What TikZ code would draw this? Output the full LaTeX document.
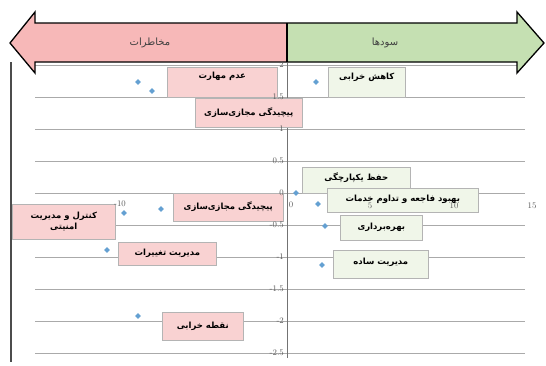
\documentclass[tikz,border=0pt]{standalone}
\usepackage{fontspec}
\newfontfamily\fa[Script=Arabic]{DejaVu Sans}
\TeXXeTstate=1
\usetikzlibrary{shapes.geometric}
\definecolor{arrpink}{RGB}{247,184,184}
\definecolor{arrgreen}{RGB}{197,224,178}
\definecolor{boxpink}{RGB}{249,210,210}
\definecolor{boxgreen}{RGB}{240,246,233}
\definecolor{boxedge}{RGB}{180,180,180}
\definecolor{gridc}{RGB}{170,170,170}
\definecolor{ptc}{RGB}{100,160,210}
\tikzset{
  lbl/.style={inner sep=0pt, draw=boxedge, line width=0.6pt, anchor=north west},
  riskbox/.style={lbl, fill=boxpink},
  benbox/.style={lbl, fill=boxgreen},
  btext/.style={font=\fa\bfseries\fontsize{8.5}{11}\selectfont, inner sep=0pt, align=center},
  pt/.style={shape=diamond, fill=ptc, draw=none, inner sep=0pt, minimum size=6pt},
  ylab/.style={font=\fontsize{8.5}{9}\selectfont, text=black!65, anchor=east, inner sep=1pt},
  xlab/.style={font=\fontsize{8.5}{9}\selectfont, text=black!65, anchor=north, inner sep=1pt},
  grid/.style={draw=gridc, line width=0.8pt},
  head/.style={font=\fa\fontsize{10}{12}\selectfont, text=black!75}
}
\begin{document}
\begin{tikzpicture}[x=1pt,y=-1pt]
\useasboundingbox (0,0) rectangle (546,365);
\fill[white] (0,0) rectangle (546,365);
% gridlines
\foreach \v in {2,1.5,1,0.5,0,-0.5,-1,-1.5,-2,-2.5}{
  \draw[grid] (35,{193-64*\v}) -- (525,{193-64*\v});
}
\draw[draw=black!55, line width=0.8pt] (287,63) -- (287,358);
\draw[draw=black!70, line width=1.6pt] (11,62) -- (11,362);
% double arrow
\fill[arrpink] (10,43) -- (35,12) -- (35,23) -- (287,23) -- (287,62) -- (35,62) -- (35,73) -- cycle;
\fill[arrgreen] (287,23) -- (517,23) -- (517,12) -- (544,43) -- (517,73) -- (517,62) -- (287,62) -- cycle;
\draw[black, line width=1.3pt, line join=miter] (10,43) -- (35,12) -- (35,23) -- (517,23) -- (517,12) -- (544,43) -- (517,73) -- (517,62) -- (35,62) -- (35,73) -- cycle;
\draw[black, line width=1.3pt] (287,23) -- (287,62);
\node[head] (risks) at (150,43) {\beginR مخاطرات\endR};
\node[head] (benefits) at (385,43) {\beginR سودها\endR};
% label boxes
\node[riskbox, minimum width=110pt, minimum height=30pt] (r1) at (167,67) {};
\node[btext] (r1t) at ([yshift=6pt]r1.center) {\beginR عدم مهارت\endR};
\node[riskbox, minimum width=107pt, minimum height=29pt] (r2) at (195,98) {};
\node[btext] (r2t) at (r2.center) {\beginR پیچیدگی مجازی‌سازی\endR};
\node[benbox, minimum width=77pt, minimum height=30pt] (b1) at (328,67) {};
\node[btext] (b1t) at ([yshift=5pt]b1.center) {\beginR کاهش خرابی\endR};
\node[benbox, minimum width=108pt, minimum height=26pt] (b2) at (302,167) {};
\node[btext] (b2t) at ([yshift=3pt]b2.center) {\beginR حفظ یکپارچگی\endR};
\node[benbox, minimum width=151pt, minimum height=24pt] (b3) at (327,188) {};
\node[btext] (b3t) at ([yshift=1pt]b3.center) {\beginR بهبود فاجعه و تداوم خدمات\endR};
\node[riskbox, minimum width=110pt, minimum height=28pt] (r3) at (173,193) {};
\node[btext] (r3t) at ([yshift=1pt]r3.center) {\beginR پیچیدگی مجازی‌سازی\endR};
\node[riskbox, minimum width=103pt, minimum height=35pt] (r4) at (12,204) {};
\node[btext] (r4t) at (r4.center) {\beginR کنترل و مدیریت\endR\\\beginR امنیتی\endR};
\node[benbox, minimum width=82pt, minimum height=25pt] (b4) at (340,215) {};
\node[btext] (b4t) at (b4.center) {\beginR بهره‌برداری\endR};
\node[riskbox, minimum width=98pt, minimum height=23pt] (r5) at (118,242) {};
\node[btext] (r5t) at (r5.center) {\beginR مدیریت تغییرات\endR};
\node[benbox, minimum width=95pt, minimum height=28pt] (b5) at (333,250) {};
\node[btext] (b5t) at ([yshift=2pt]b5.center) {\beginR مدیریت ساده\endR};
\node[riskbox, minimum width=81pt, minimum height=28pt] (r6) at (162,312) {};
\node[btext] (r6t) at (r6.center) {\beginR نقطه خرابی\endR};
% axis labels
\foreach \v/\t in {2/2,1.5/1.5,1/1,0.5/0.5,0/0,-0.5/-0.5,-1/-1,-1.5/-1.5,-2/-2,-2.5/-2.5}{
  \node[ylab] (y\t) at (285,{193-64*\v}) {\t};
}
\node[xlab] (xm10) at (120,200) {-10};
\node[xlab] (x0) at (291,201) {0};
\node[xlab] (x5) at (370,202) {5};
\node[xlab] (x10) at (454,202) {10};
\node[xlab] (x15) at (532,202) {15};
% data points
\node[pt] (p1) at (138,82) {};
\node[pt] (p2) at (152,91) {};
\node[pt] (p3) at (316,82) {};
\node[pt] (p4) at (296,193) {};
\node[pt] (p5) at (318,204) {};
\node[pt] (p6) at (325,226) {};
\node[pt] (p7) at (322,265) {};
\node[pt] (p8) at (161,209) {};
\node[pt] (p9) at (124,213) {};
\node[pt] (p10) at (107,250) {};
\node[pt] (p11) at (138,316) {};
\end{tikzpicture}
\end{document}
